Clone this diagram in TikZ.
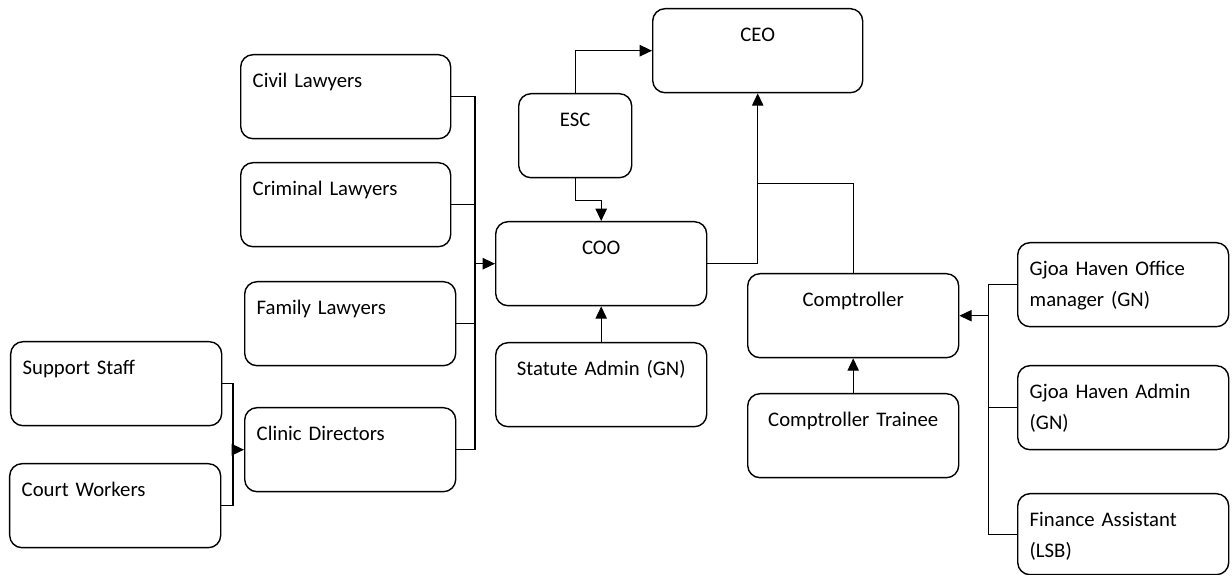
\documentclass[tikz,border=0pt]{standalone}
\usepackage{fontspec}
\setmainfont{Carlito}
\usepackage{tikz}
\usetikzlibrary{arrows.meta, positioning, calc}

\begin{document}
\begin{tikzpicture}[
  >={Triangle[length=7pt, width=6.5pt]},
  unit/.style={
    draw, rounded corners=7pt, line width=0.8pt, anchor=north west,
    inner xsep=0.24cm, inner ysep=0pt,
    text height=0.66cm, text depth=1.02cm, text width=3.74cm,
    font=\fontsize{11.8}{17.6}\selectfont
  },
  unitL/.style={unit, align=left},
  unitC/.style={unit, align=center},
  link/.style={line width=0.65pt},
]

\useasboundingbox (0,0) rectangle (24.64,-11.5);

%%% Top of the chart
\node[unitC, text width=3.72cm] (ceo) at (13.04,-0.16) {CEO};
\node[unitC, text width=1.78cm] (esc) at (10.36,-1.86) {ESC};
\node[unitC] (coo) at (9.90,-4.42) {COO};
\node[unitC] (statute) at (9.90,-6.84) {Statute Admin (GN)};

%%% Lawyers column
\node[unitL, text width=3.72cm] (civil) at (4.80,-1.08) {Civil Lawyers};
\node[unitL, text width=3.72cm] (criminal) at (4.80,-3.24) {Criminal Lawyers};
\node[unitL] (family) at (4.88,-5.62) {Family Lawyers};
\node[unitL] (clinic) at (4.88,-8.14) {Clinic Directors};

%%% Clinic support
\node[unitL] (support) at (0.20,-6.82) {Support Staff};
\node[unitL] (court) at (0.18,-9.26) {Court Workers};

%%% Finance side
\node[unitC] (comp) at (14.94,-5.46) {Comptroller};
\node[unitC] (trainee) at (14.94,-7.86) {Comptroller Trainee};
\node[unitL] (gho) at (20.34,-4.84) {Gjoa Haven Office\\manager (GN)};
\node[unitL] (gha) at (20.34,-7.30) {Gjoa Haven Admin\\(GN)};
\node[unitL, text depth=0.96cm] (fin) at (20.34,-9.86)
  {Finance Assistant\\(LSB)};

%%% Junction points
\path (coo.west) ++(-0.40,0) coordinate (lbus);
\path (clinic.west) ++(-0.22,0) coordinate (sbus);
\path (comp.east) ++(0.58,0) coordinate (rbus);
\path (ceo.south) ++(0,-1.80) coordinate (cj);

%%% Connectors
\draw[link, ->] (esc.north) |- (ceo.west);
\draw[link, ->] (esc.south) -- ++(0,-0.44) -| (coo.north);
\draw[link, ->] (coo.east) -| (ceo.south);
\draw[link] (comp.north) |- (cj);
\draw[link, ->] (statute.north) -- (coo.south);
\draw[link, ->] (trainee.north) -- (comp.south);

\draw[link] (civil.east) -| (lbus);
\draw[link] (criminal.east) -| (lbus);
\draw[link] (family.east) -| (lbus);
\draw[link] (clinic.east) -| (lbus);
\draw[link, ->] (lbus) -- (coo.west);

\draw[link] (support.east) -| (sbus);
\draw[link] (court.east) -| (sbus);
\draw[link, ->] (sbus) -- (clinic.west);

\draw[link] (gho.west) -| (rbus);
\draw[link] (gha.west) -| (rbus);
\draw[link] (fin.west) -| (rbus);
\draw[link, ->] (rbus) -- (comp.east);

\end{tikzpicture}
\end{document}
